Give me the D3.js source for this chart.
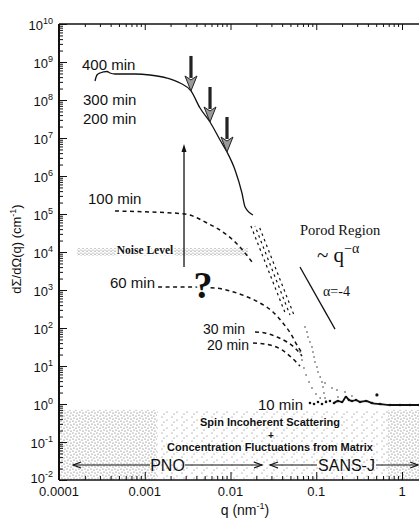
<!DOCTYPE html>
<html><head><meta charset="utf-8">
<script src="https://cdn.jsdelivr.net/npm/d3@7"></script>
<style>
body{margin:0;background:#fff}
text{font-family:"Liberation Sans",Arial,sans-serif;fill:#111}
.serif{font-family:"Liberation Serif","Times New Roman",serif}
</style>
</head><body>
<svg id="chart" width="419" height="519"></svg>
<script>
// ---- data: q (nm^-1) and dΣ/dΩ (cm^-1) ----
const q400 = [2.63e-4, 2.77e-4, 3.01e-4, 3.63e-4, 3.93e-4, 4.5e-4, 5.14e-4, 7.7e-4, 1.15e-3, 1.82e-3, 2.58e-3, 3.46e-3, 4.41e-3, 5.77e-3, 7.55e-3, 9.1e-3, 1.13e-2, 1.36e-2, 1.48e-2, 1.83e-2];
const i400 = [3.16e8, 4.55e8, 5.14e8, 5.62e8, 5.14e8, 4.83e8, 4.83e8, 4.83e8, 4.55e8, 3.79e8, 2.8e8, 1.73e8, 6.16e7, 2.64e7, 8.86e6, 4.28e6, 1.44e6, 3.57e5, 1.53e5, 9.4e4];

const q100 = [4.5e-4, 1.15e-3, 2.95e-3, 5.32e-3, 9.1e-3, 1.29e-2, 1.78e-2];
const i100 = [1.2e5, 1.13e5, 1.0e5, 5.8e4, 2.8e4, 1.35e4, 5.46e3];

const q60 = [1.43e-3, 3.37e-3, 6.59e-3, 9.86e-3, 1.48e-2, 2.21e-2, 3.13e-2, 4.09e-2, 5.07e-2, 5.96e-2, 6.82e-2];
const i60 = [1.2e3, 1.2e3, 1.13e3, 942, 695, 455, 264, 135, 69.5, 35.7, 22];

const q30 = [1.93e-2, 2.52e-2, 3.48e-2, 4.56e-2, 5.65e-2, 6.82e-2];
const i30 = [78.5, 73.9, 58, 42.8, 29.8, 18.3];

const q20 = [1.83e-2, 2.89e-2, 3.99e-2, 5.21e-2, 6.46e-2];
const i20 = [40.3, 35.7, 26.4, 16.3, 10];

// high-q tails of the 400/300/200 min curves
const tailQStart = [1.73e-2, 1.93e-2, 2.15e-2];
const tailQEnd = [4.43e-2, 4.94e-2, 5.5e-2];
const tailI = [4.83e4, 220];

// SANS-J points at high q
const qDotsA = [0.0739, 0.078, 0.0801, 0.0845, 0.0892, 0.0916, 0.0942, 0.0966, 0.102, 0.1048, 0.111, 0.1167, 0.12, 0.123, 0.1265];
const iDotsA = [106, 78.5, 58, 42.8, 31.6, 23.4, 17.3, 12.8, 9.42, 6.95, 5.14, 3.79, 2.8, 1.95, 1.44];
const qDotsB = [0.0646, 0.0682, 0.0719, 0.076, 0.0823, 0.0892, 0.0993, 0.111, 0.13];
const iDotsB = [23.4, 14.4, 8.86, 5.8, 3.79, 2.64, 1.83, 1.44, 1.2];
const qDotsC = [0.1265, 0.1527, 0.1746, 0.1793, 0.2164, 0.261];
const iDotsC = [3.57, 2.64, 2.34, 1.53, 2.07, 1.62];

const q10 = [0.0845, 0.0942, 0.1048, 0.1167, 0.13, 0.1445, 0.161, 0.1793, 0.1997, 0.222, 0.241, 0.261, 0.291, 0.324, 0.38, 0.447, 0.554, 0.724, 0.948, 1.24, 1.58];
const i10 = [1.06, 1.0, 1.13, 1.0, 1.13, 1.2, 1.06, 1.2, 1.13, 1.53, 1.27, 1.2, 1.27, 1.13, 1.2, 1.06, 1.0, 0.94, 0.94, 0.94, 0.94];
const q10Outlier = [0.51];
const i10Outlier = [1.73];

// characteristic-q arrows (tips sit on the 400 min curve)
const arrowQ = [3.46e-3, 5.77e-3, 9.1e-3];
const arrowI = [1.73e8, 2.64e7, 4.28e6];

// time-evolution arrow
const growQ = 2.87e-3;
const growI = [4.03e3, 6.95e6];

// noise level band
const noiseQ = [1.62e-4, 1.6e-2];
const noiseI = [7.85e3, 1.27e4];

// Porod slope guide, q^-4
const porodQ = [0.0646, 0.1655];
const porodI = [4030, 93.5];

// background (spin incoherent + matrix) band
const bgTop = 0.7;
const bgDenseLeft = [1e-4, 1.39e-3];
const bgSparse = [1.39e-3, 0.687];
const bgDenseRight = [0.687, 2];

// instrument ranges
const pnoRange = [1.46e-4, 2.33e-2];
const sansjRange = [2.89e-2, 1.54];
const rangeI = 0.0248;

const xTickVals = [1e-4, 1e-3, 1e-2, 1e-1, 1];
const xTickLabels = ["0.0001", "0.001", "0.01", "0.1", "1"];
const yExponents = [-2, -1, 0, 1, 2, 3, 4, 5, 6, 7, 8, 9, 10];

// ---- scales ----
const svg = d3.select("#chart");
const L = 59, T = 24, B = 480;
const x = d3.scaleLog().domain([1e-4, 2]).range([L, L + 85.75 * Math.log10(2e4)]);
const y = d3.scaleLog().domain([1e-2, 1e10]).range([B, T]);

const defs = svg.append("defs");
defs.append("clipPath").attr("id", "plotclip")
  .append("rect").attr("x", L).attr("y", T).attr("width", 419 - L).attr("height", B - T);

function dotPattern(id, w, h, pts, r, col) {
  const p = defs.append("pattern").attr("id", id).attr("patternUnits", "userSpaceOnUse")
    .attr("width", w).attr("height", h);
  pts.forEach(([a, b]) => p.append("circle").attr("cx", a).attr("cy", b).attr("r", r).attr("fill", col));
}
dotPattern("dense", 6, 6, [[1, 1], [4, 2], [2, 4], [5, 5]], 0.6, "#555");
dotPattern("sparse", 10, 8, [[2, 1], [7, 4], [4, 6]], 0.55, "#666");
dotPattern("noise", 4, 3, [[1, 1], [3, 2.2]], 0.6, "#777");

const plot = svg.append("g").attr("clip-path", "url(#plotclip)");

// background band
[[bgDenseLeft, "url(#dense)"], [bgSparse, "url(#sparse)"], [bgDenseRight, "url(#dense)"]].forEach(([r, f]) => {
  plot.append("rect").attr("x", x(r[0])).attr("width", x(r[1]) - x(r[0]))
    .attr("y", y(bgTop)).attr("height", B - y(bgTop)).attr("fill", f);
});

// noise level band
plot.append("rect").attr("x", x(noiseQ[0])).attr("width", x(noiseQ[1]) - x(noiseQ[0]))
  .attr("y", y(noiseI[1])).attr("height", y(noiseI[0]) - y(noiseI[1])).attr("fill", "url(#noise)");

const line = d3.line().x(d => x(d[0])).y(d => y(d[1])).curve(d3.curveMonotoneX);
const zip = (a, b) => a.map((v, i) => [v, b[i]]);

// 400 min (also 300 / 200 min) solid curve
plot.append("path").datum(zip(q400, i400)).attr("d", line)
  .attr("fill", "none").attr("stroke", "#111").attr("stroke-width", 1.3);

// dashed tails
tailQStart.forEach((qs, k) => {
  plot.append("path").datum([[qs, tailI[0]], [tailQEnd[k], tailI[1]]]).attr("d", d3.line().x(d => x(d[0])).y(d => y(d[1])))
    .attr("fill", "none").attr("stroke", "#111").attr("stroke-width", 1.2)
    .attr("stroke-dasharray", "2.5,3.5").attr("stroke-dashoffset", k * 2);
});

// dashed curves for earlier times
[[q100, i100], [q60, i60], [q30, i30], [q20, i20]].forEach(([qq, ii]) => {
  plot.append("path").datum(zip(qq, ii)).attr("d", line)
    .attr("fill", "none").attr("stroke", "#111").attr("stroke-width", 1.5).attr("stroke-dasharray", "4,3.5");
});

// scattered SANS-J points
[[qDotsA, iDotsA], [qDotsB, iDotsB], [qDotsC, iDotsC]].forEach(([qq, ii]) => {
  plot.selectAll(null).data(zip(qq, ii)).enter().append("circle")
    .attr("cx", d => x(d[0])).attr("cy", d => y(d[1])).attr("r", 0.8).attr("fill", "#333");
});

// 10 min
const d10 = zip(q10, i10);
plot.append("path").datum(d10.filter(d => d[0] >= 0.16)).attr("d", line)
  .attr("fill", "none").attr("stroke", "#111").attr("stroke-width", 1.8);
plot.selectAll(null).data(d10).enter().append("circle")
  .attr("cx", d => x(d[0])).attr("cy", d => y(d[1])).attr("r", 1.3).attr("fill", "#111");
plot.selectAll(null).data(zip(q10Outlier, i10Outlier)).enter().append("circle")
  .attr("cx", d => x(d[0])).attr("cy", d => y(d[1])).attr("r", 1.6).attr("fill", "#111");

// Porod guide
plot.append("line").attr("x1", x(porodQ[0])).attr("y1", y(porodI[0]))
  .attr("x2", x(porodQ[1])).attr("y2", y(porodI[1])).attr("stroke", "#111").attr("stroke-width", 1.3);

// downward arrows
arrowQ.forEach((qv, k) => {
  const tx = x(qv), ty = y(arrowI[k]);
  plot.append("line").attr("x1", tx).attr("x2", tx).attr("y1", ty - 35).attr("y2", ty - 13)
    .attr("stroke", "#222").attr("stroke-width", 3.2);
  plot.append("path").attr("d", `M${tx - 6},${ty - 15} L${tx},${ty - 11} L${tx + 6},${ty - 15} L${tx},${ty} Z`)
    .attr("fill", "#9a9a9a").attr("stroke", "#222").attr("stroke-width", 1);
});

// upward arrow
{
  const gx = x(growQ), y0 = y(growI[0]), y1 = y(growI[1]);
  plot.append("line").attr("x1", gx).attr("x2", gx).attr("y1", y0).attr("y2", y1 + 4)
    .attr("stroke", "#111").attr("stroke-width", 1.3);
  plot.append("path").attr("d", `M${gx - 2.5},${y1 + 8} L${gx},${y1} L${gx + 2.5},${y1 + 8} Z`).attr("fill", "#111");
}

// instrument range arrows
function rangeArrow(r, gapFrom, gapTo) {
  const yy = y(rangeI), x0 = x(r[0]), x1 = x(r[1]);
  const g = plot.append("g").attr("stroke", "#111").attr("stroke-width", 1.2).attr("fill", "none");
  g.append("line").attr("x1", x0).attr("x2", gapFrom).attr("y1", yy).attr("y2", yy);
  g.append("line").attr("x1", gapTo).attr("x2", x1).attr("y1", yy).attr("y2", yy);
  g.append("path").attr("d", `M${x0 + 8},${yy - 3} L${x0},${yy} L${x0 + 8},${yy + 3}`);
  g.append("path").attr("d", `M${x1 - 8},${yy - 3} L${x1},${yy} L${x1 - 8},${yy + 3}`);
}
rangeArrow(pnoRange, 150, 185);
rangeArrow(sansjRange, 317, 376);

// ---- axes ----
const minorY = [];
for (let e = -2; e < 10; e++) for (let k = 2; k < 10; k++) minorY.push(k * Math.pow(10, e));
const minorX = [];
for (let e = -4; e < 1; e++) for (let k = 2; k < 10; k++) if (k * Math.pow(10, e) <= 2) minorX.push(k * Math.pow(10, e));
const majorY = yExponents.map(e => Math.pow(10, e));

function axisG(gen, tr) {
  const g = svg.append("g").attr("transform", tr).call(gen);
  g.select(".domain").remove();
  g.selectAll("line").attr("stroke", "#111").attr("stroke-width", 1);
  return g;
}
axisG(d3.axisRight(y).tickValues(minorY).tickSize(4).tickFormat(""), `translate(${L},0)`);
axisG(d3.axisRight(y).tickValues(majorY).tickSize(8).tickFormat(""), `translate(${L},0)`);
axisG(d3.axisTop(x).tickValues(minorX).tickSize(4).tickFormat(""), `translate(0,${B})`);
axisG(d3.axisTop(x).tickValues(xTickVals).tickSize(8).tickFormat(""), `translate(0,${B})`);
axisG(d3.axisBottom(x).tickValues(minorX).tickSize(3).tickFormat(""), `translate(0,${T})`);
axisG(d3.axisBottom(x).tickValues(xTickVals).tickSize(6).tickFormat(""), `translate(0,${T})`);

svg.append("line").attr("x1", L).attr("x2", L).attr("y1", T).attr("y2", B).attr("stroke", "#111").attr("stroke-width", 2);
svg.append("line").attr("x1", L).attr("x2", 419).attr("y1", B).attr("y2", B).attr("stroke", "#111").attr("stroke-width", 1.6);
svg.append("line").attr("x1", L).attr("x2", 419).attr("y1", T).attr("y2", T).attr("stroke", "#111").attr("stroke-width", 1.6);

// y tick labels 10^n
yExponents.forEach(e => {
  const t = svg.append("text").attr("x", 53).attr("y", y(Math.pow(10, e)) + (e === -2 ? 3 : 6))
    .attr("text-anchor", "end");
  t.append("tspan").attr("font-size", 13).text("10");
  t.append("tspan").attr("font-size", 9).attr("dy", -6).text(String(e));
});
// x tick labels
xTickVals.forEach((v, i) => {
  svg.append("text").attr("x", x(v)).attr("y", 496).attr("text-anchor", "middle")
    .attr("font-size", 13).text(xTickLabels[i]);
});

// axis titles
{
  const t = svg.append("text").attr("text-anchor", "middle").attr("font-size", 13)
    .attr("transform", "translate(21,249) rotate(-90)");
  t.append("tspan").text("dΣ/dΩ(q)  (cm");
  t.append("tspan").attr("font-size", 9).attr("dy", -5).text("-1");
  t.append("tspan").attr("dy", 5).text(")");
  const u = svg.append("text").attr("x", 245).attr("y", 515).attr("text-anchor", "middle").attr("font-size", 14);
  u.append("tspan").text("q  (nm");
  u.append("tspan").attr("font-size", 9).attr("dy", -6).text("-1");
  u.append("tspan").attr("dy", 6).text(")");
}

// curve labels
const labels = [["400 min", 82, 70, 15], ["300 min", 83, 105, 15], ["200 min", 83, 124, 15], ["100 min", 88, 204, 15],
  ["60 min", 110, 288, 15], ["30 min", 203, 334, 14], ["20 min", 207, 350, 14], ["10 min", 258, 410, 15]];
labels.forEach(([s, lx, ly, fs]) => svg.append("text").attr("x", lx).attr("y", ly).attr("font-size", fs).text(s));

// question mark over the 60 min curve
svg.append("text").attr("class", "serif").attr("x", 203).attr("y", 298).attr("text-anchor", "middle")
  .attr("font-size", 38).attr("font-weight", "bold")
  .attr("stroke", "#fff").attr("stroke-width", 6).attr("paint-order", "stroke").text("?");

// noise level label
svg.append("text").attr("class", "serif").attr("x", 145).attr("y", 254).attr("text-anchor", "middle")
  .attr("font-size", 11.5).attr("font-weight", "bold")
  .attr("stroke", "#fff").attr("stroke-width", 3).attr("paint-order", "stroke").text("Noise Level");

// Porod annotations
svg.append("text").attr("class", "serif").attr("x", 300).attr("y", 235).attr("font-size", 14.5).text("Porod Region");
{
  const t = svg.append("text").attr("class", "serif").attr("x", 317).attr("y", 262).attr("font-size", 21);
  t.append("tspan").text("~ q");
  t.append("tspan").attr("font-size", 14).attr("dy", -9).text("−α");
}
svg.append("text").attr("class", "serif").attr("x", 323).attr("y", 296).attr("font-size", 14).text("α=-4");

// background labels
svg.append("text").attr("x", 270).attr("y", 426).attr("text-anchor", "middle")
  .attr("font-size", 11).attr("font-weight", "bold")
  .attr("stroke", "#fff").attr("stroke-width", 2.5).attr("paint-order", "stroke").text("Spin Incoherent Scattering");
svg.append("text").attr("x", 271).attr("y", 439).attr("text-anchor", "middle")
  .attr("font-size", 10).attr("font-weight", "bold").text("+");
svg.append("text").attr("x", 270).attr("y", 451).attr("text-anchor", "middle")
  .attr("font-size", 11).attr("font-weight", "bold")
  .attr("stroke", "#fff").attr("stroke-width", 2.5).attr("paint-order", "stroke").text("Concentration Fluctuations from Matrix");

svg.append("text").attr("x", 167.5).attr("y", 471).attr("text-anchor", "middle").attr("font-size", 16).text("PNO");
svg.append("text").attr("x", 346.5).attr("y", 471).attr("text-anchor", "middle").attr("font-size", 16).text("SANS-J");
</script>
</body></html>
